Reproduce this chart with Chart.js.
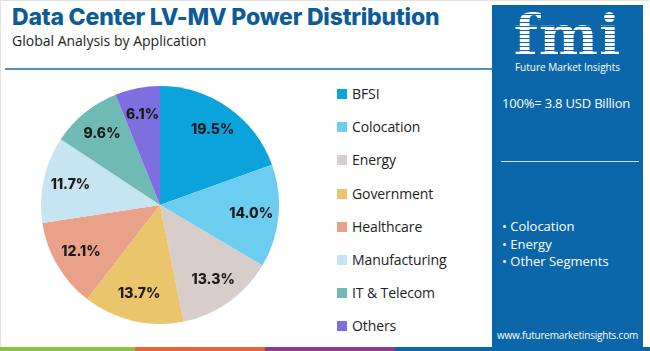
<!DOCTYPE html>
<html>
<head>
<meta charset="utf-8">
<script src="https://cdn.jsdelivr.net/npm/chart.js@4/dist/chart.umd.min.js"></script>
<style>
  html, body { margin: 0; padding: 0; }
  body { width: 650px; height: 351px; position: relative; overflow: hidden; background: #fff; font-family: "Open Sans", Roboto, sans-serif; }
  .frame { position: absolute; left: 0; top: 0; width: 648px; height: 349px; border: 1px solid #e2e2e2; border-right: none; }
  .title { position: absolute; left: 12px; top: 3px; font: 800 23px Inter, "Open Sans", sans-serif; color: #0d5c98; letter-spacing: -0.2px; white-space: nowrap; }
  .sub { position: absolute; left: 12px; top: 31px; font: 14px "Open Sans", sans-serif; color: #222; }
  .rule { position: absolute; left: 5px; top: 68px; width: 488px; height: 2px; background: #4f8fbf; }
  .pie-box { position: absolute; left: 41px; top: 86px; width: 238px; height: 238px; }
  .legend { position: absolute; left: 337px; top: 84px; }
  .legend div { height: 33.2px; font: 14px "Open Sans", sans-serif; color: #222; letter-spacing: -0.1px; display: flex; align-items: flex-start; }
  .legend span.sw { width: 10px; height: 10px; margin: 5px 5px 0 0; display: inline-block; }
  .panel { position: absolute; left: 492px; top: 5px; width: 151px; height: 342px; background: #0b67aa; color: #fff; }
  .logo { position: absolute; left: 0; top: 2px; width: 151px; text-align: center; font: bold 56px "DejaVu Serif", serif; letter-spacing: 1px; line-height: 56px;
          background: repeating-linear-gradient(#fff 0 3px, #0b67aa 3px 4px); -webkit-background-clip: text; background-clip: text; color: transparent; }
  .logo-sub { position: absolute; left: 0; top: 55px; width: 151px; text-align: center; font: 10px "Open Sans", sans-serif; }
  .total { position: absolute; left: 10px; top: 89px; font: 13px "Open Sans", sans-serif; letter-spacing: -0.2px; white-space: nowrap; }
  .hr { position: absolute; left: 9px; top: 156px; width: 138px; height: 1px; background: #cfe0ee; }
  .bul { position: absolute; left: 10px; top: 213px; font: 13px "Open Sans", sans-serif; line-height: 17.5px; }
  .url { position: absolute; left: 0; top: 323px; width: 151px; text-align: center; font: 10px "Open Sans", sans-serif; letter-spacing: -0.2px; }
  .strip { position: absolute; top: 347px; height: 4px; }
</style>
</head>
<body>
<div class="frame"></div>
<div class="title">Data Center LV-MV Power Distribution</div>
<div class="sub">Global Analysis by Application</div>
<div class="rule"></div>
<div class="pie-box"><canvas id="pie"></canvas></div>
<div class="legend" id="legend"></div>
<div class="panel">
  <div class="logo">fmi</div>
  <div class="logo-sub">Future Market Insights</div>
  <div class="total">100%= 3.8 USD Billion</div>
  <div class="hr"></div>
  <div class="bul">• Colocation<br>• Energy<br>• Other Segments</div>
  <div class="url">www.futuremarketinsights.com</div>
</div>
<div class="strip" style="left:0;width:135px;background:#8bc34a"></div>
<div class="strip" style="left:135px;width:130px;background:#e8623a"></div>
<div class="strip" style="left:265px;width:130px;background:#8c3b8f"></div>
<div class="strip" style="left:395px;width:255px;background:#0b67aa"></div>
<script>
const categories = ['BFSI', 'Colocation', 'Energy', 'Government', 'Healthcare', 'Manufacturing', 'IT & Telecom', 'Others'];
const shares = [19.5, 14.0, 13.3, 13.7, 12.1, 11.7, 9.6, 6.1];
const colors = ['#0aa3dc', '#6dcdf0', '#d7cecb', '#ebc56b', '#e9a189', '#c7e4f3', '#6fbab4', '#7e6ee0'];

// legend built by hand, the chart's own one can't space rows like this
const legendEl = document.getElementById('legend');
categories.forEach((c, i) => {
  const row = document.createElement('div');
  row.innerHTML = `<span class="sw" style="background:${colors[i]}"></span>${c}`;
  legendEl.appendChild(row);
});

const sliceLabels = {
  id: 'sliceLabels',
  afterDatasetsDraw(chart) {
    const ctx = chart.ctx;
    const meta = chart.getDatasetMeta(0);
    ctx.save();
    ctx.font = '800 14px Inter, "Open Sans", sans-serif';
    ctx.fillStyle = '#1b1b1b';
    ctx.textAlign = 'center';
    ctx.textBaseline = 'middle';
    meta.data.forEach((arc, i) => {
      const p = arc.getProps(['x', 'y', 'startAngle', 'endAngle', 'outerRadius'], true);
      const mid = (p.startAngle + p.endAngle) / 2;
      const r = p.outerRadius * 0.77;
      ctx.fillText(shares[i].toFixed(1) + '%', p.x + Math.cos(mid) * r, p.y + Math.sin(mid) * r);
    });
    ctx.restore();
  }
};

new Chart(document.getElementById('pie'), {
  type: 'pie',
  data: {
    labels: categories,
    datasets: [{ data: shares, backgroundColor: colors, borderWidth: 0 }]
  },
  options: {
    responsive: true,
    maintainAspectRatio: false,
    animation: false,
    layout: { padding: 0 },
    plugins: { legend: { display: false }, tooltip: { enabled: false } }
  },
  plugins: [sliceLabels]
});
</script>
</body>
</html>
